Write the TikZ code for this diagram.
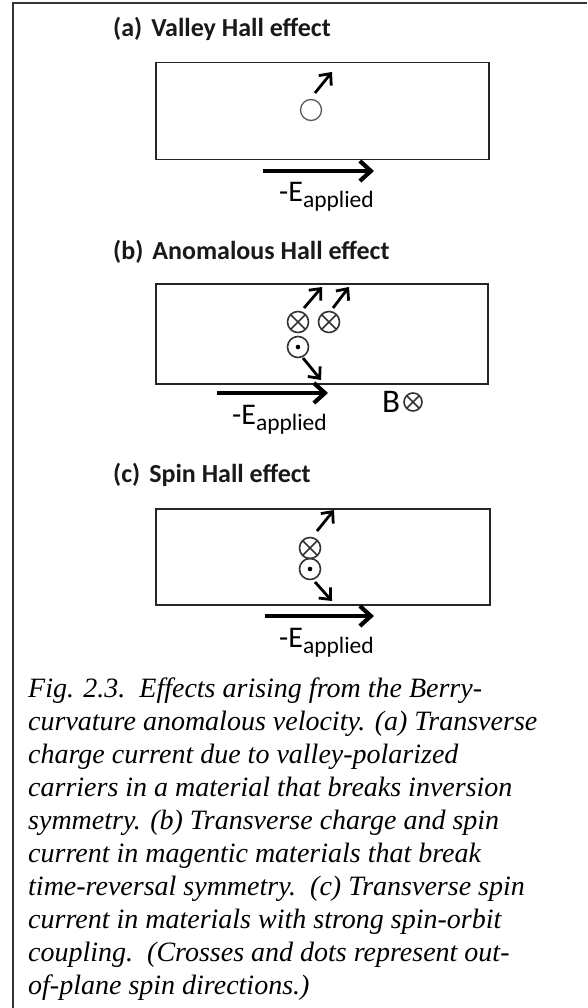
\documentclass[tikz,border=0pt]{standalone}
\usepackage{fontspec}
\setmainfont{Liberation Serif}
\newfontfamily\calfont{Carlito}
\usetikzlibrary{arrows.meta}
\begin{document}
\begin{tikzpicture}[x=1pt,y=-1pt,
  panel/.style={draw=black!85, line width=1.5pt, minimum width=333pt, minimum height=97pt, anchor=north west, inner sep=0pt},
  ttl/.style={anchor=base west, inner sep=0pt, font=\calfont\bfseries\fontsize{26}{26}\selectfont, text=black!90},
  elabel/.style={anchor=base west, inner sep=0pt, font=\calfont\fontsize{30}{30}\selectfont},
  efield/.style={line width=4.2pt, -{Straight Barb[length=11pt,width=20pt]}},
  vel/.style={line width=2.8pt, -{Straight Barb[length=9pt,width=16pt]}},
  spin/.style={circle, draw=black!80, line width=1.6pt, minimum size=21pt, inner sep=0pt},
  otimes/.style={spin, path picture={\draw[black!80, line width=1.6pt] (path picture bounding box.north west) -- (path picture bounding box.south east) (path picture bounding box.north east) -- (path picture bounding box.south west);}},
  odot/.style={spin, path picture={\fill[black] (path picture bounding box.center) circle[radius=2.3pt];}},
  captxt/.style={anchor=base west, inner sep=0pt, font=\itshape\fontsize{28}{33}\selectfont}
]
\useasboundingbox (0,0) rectangle (587,1008);
\draw[line width=2.5pt, black!80] (13,1008) -- (13,3) -- (587,3);

% (a)
\node[ttl] (ta) at (113,37) {(a)\hspace{9pt}Valley Hall effect};
\node[panel] (boxa) at (155,62) {};
\node[spin, draw=black!65, line width=1.3pt] (ca) at (311,110) {};
\coordinate (va0) at (315,93);
\coordinate (va1) at (332,72);
\draw[vel] (va0) -- (va1);
\coordinate (ea0) at (263,171);
\coordinate (ea1) at (374,171);
\draw[efield] (ea0) -- (ea1);
\node[elabel] (la) at (279,202) {-E\raisebox{-6pt}{\fontsize{23.5}{23.5}\selectfont applied}};

% (b)
\node[ttl] (tb) at (113,259) {(b)\hspace{9pt}Anomalous Hall effect};
\node[panel, minimum width=332pt, minimum height=100pt] (boxb) at (155,283) {};
\node[otimes] (xb1) at (298,322) {};
\node[otimes] (xb2) at (329,322) {};
\node[odot] (db) at (298,347) {};
\coordinate (vb10) at (304,308);
\coordinate (vb11) at (322,287);
\coordinate (vb20) at (333,308);
\coordinate (vb21) at (349,287);
\coordinate (vb30) at (303,358);
\coordinate (vb31) at (321,380);
\draw[vel] (vb10) -- (vb11);
\draw[vel] (vb20) -- (vb21);
\draw[vel] (vb30) -- (vb31);
\coordinate (eb0) at (217,393);
\coordinate (eb1) at (328,393);
\draw[efield] (eb0) -- (eb1);
\node[elabel] (lb) at (232,424) {-E\raisebox{-6pt}{\fontsize{23.5}{23.5}\selectfont applied}};
\node[elabel, font=\calfont\fontsize{33}{33}\selectfont] (B) at (382,412) {B};
\node[otimes, minimum size=18pt] (xB) at (413,402) {};

% (c)
\node[ttl] (tc) at (113,482) {(c)\hspace{9pt}Spin Hall effect};
\node[panel, minimum width=334pt, minimum height=96pt] (boxc) at (155,508) {};
\node[otimes] (xc) at (310,548) {};
\node[odot] (dc) at (310,569) {};
\coordinate (vc10) at (317,531);
\coordinate (vc11) at (334,510);
\coordinate (vc20) at (315,582);
\coordinate (vc21) at (332,601);
\draw[vel] (vc10) -- (vc11);
\draw[vel] (vc20) -- (vc21);
\coordinate (ec0) at (265,616);
\coordinate (ec1) at (374,616);
\draw[efield] (ec0) -- (ec1);
\node[elabel] (lc) at (279,647) {-E\raisebox{-6pt}{\fontsize{23.5}{23.5}\selectfont applied}};

% caption
\node[captxt] (c1) at (28,697) {Fig. 2.3.\ \ Effects arising from the Berry-};
\node[captxt] (c2) at (28,730.1) {curvature anomalous velocity. (a) Transverse};
\node[captxt] (c3) at (28,763.2) {charge current due to valley-polarized};
\node[captxt] (c4) at (28,796.3) {carriers in a material that breaks inversion};
\node[captxt] (c5) at (28,829.4) {symmetry. (b) Transverse charge and spin};
\node[captxt] (c6) at (28,862.5) {current in magentic materials that break};
\node[captxt] (c7) at (28,895.6) {time-reversal symmetry.\ \ (c) Transverse spin};
\node[captxt] (c8) at (28,928.7) {current in materials with strong spin-orbit};
\node[captxt] (c9) at (28,961.8) {coupling.\ \ (Crosses and dots represent out-};
\node[captxt] (c10) at (28,994.9) {of-plane spin directions.)};
\end{tikzpicture}
\end{document}
